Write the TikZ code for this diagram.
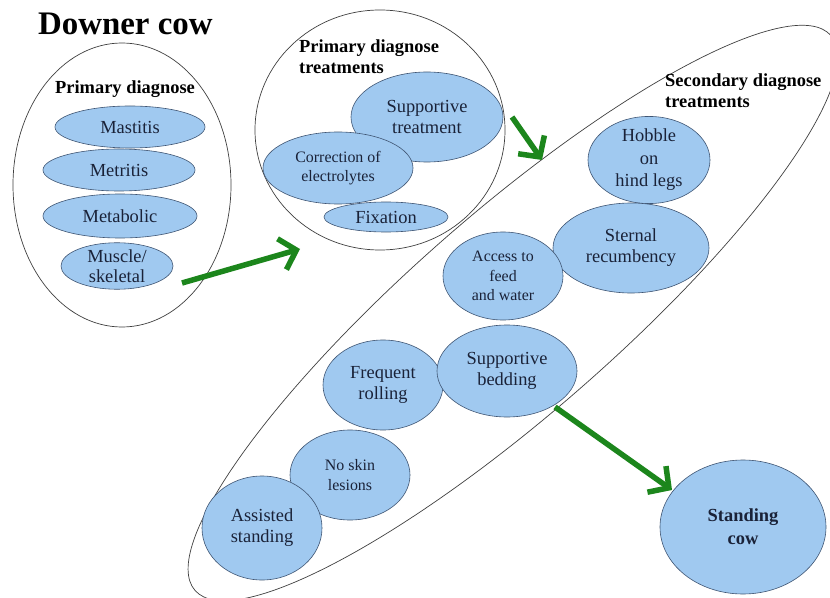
\documentclass[tikz,border=0pt]{standalone}
\usepackage{fontspec}
\setmainfont{Liberation Serif}
\usetikzlibrary{shapes.geometric,arrows.meta}
\definecolor{cfill}{HTML}{A0C9F0}
\definecolor{cedge}{HTML}{3F5573}
\definecolor{ctext}{HTML}{1A2238}
\definecolor{cgreen}{HTML}{1C861C}
\begin{document}
\begin{tikzpicture}[x=1bp,y=-1bp,
  blob/.style={ellipse, draw=cedge, line width=0.6bp, fill=cfill, inner sep=0pt, text=ctext, align=center, font=\fontsize{18.5}{21}\selectfont},
  smallblob/.style={blob, font=\fontsize{16}{19.5}\selectfont},
  grpshape/.style={ellipse, draw=black!75, line width=0.7bp, inner sep=0pt},
  grouplabel/.style={font=\bfseries\fontsize{18.5}{21}\selectfont, align=left, inner sep=0pt},
  flowarrow/.style={draw=cgreen, line width=5.5bp, -{Straight Barb[length=15bp,width=32bp]}}]
\useasboundingbox (0,0) rectangle (830,598);
\fill[white] (0,0) rectangle (830,598);

% title
\node[anchor=base west, inner sep=0pt, font=\bfseries\fontsize{33}{36}\selectfont] (title) at (38,35) {Downer cow};

% group outlines
\node[grpshape, minimum width=218bp, minimum height=284bp] (pd) at (122,185) {};
\node[grpshape, minimum width=250bp, minimum height=240bp] (pdt) at (380,130) {};
\node[grpshape, minimum width=844bp, minimum height=202bp, rotate=41.1] (sdt) at (513,313) {};

% group labels
\node[grouplabel, anchor=base] (pdl) at (125,94) {Primary diagnose};
\node[grouplabel, anchor=north west] (pdtl) at (299,40) {Primary diagnose\\treatments};
\node[grouplabel, anchor=north west] (sdtl) at (665,74) {Secondary diagnose\\treatments};

% primary diagnose
\node[blob, minimum width=150bp, minimum height=42bp] (mast) at (130,127) {Mastitis};
\node[blob, minimum width=152bp, minimum height=42bp] (metr) at (119,170) {Metritis};
\node[blob, minimum width=154bp, minimum height=44bp] (meta) at (120,216) {Metabolic};
\node[blob, minimum width=112bp, minimum height=46bp, font=\fontsize{18.5}{20}\selectfont] (musc) at (117,266) {Muscle/\\skeletal};

% primary diagnose treatments
\node[blob, minimum width=152bp, minimum height=90bp] (supt) at (427,117) {Supportive\\treatment};
\node[smallblob, minimum width=150bp, minimum height=72bp] (corr) at (338,168) {Correction of\\electrolytes};
\node[blob, minimum width=124bp, minimum height=30bp] (fix) at (386,217) {Fixation};

% secondary diagnose treatments
\node[blob, minimum width=122bp, minimum height=86bp, font=\fontsize{18.5}{22.5}\selectfont] (hob) at (649,160) {Hobble\\on\\hind legs};
\node[blob, minimum width=156bp, minimum height=90bp] (stern) at (631,248) {Sternal\\recumbency};
\node[smallblob, minimum width=120bp, minimum height=88bp] (acc) at (503,276) {Access to\\feed\\and water};
\node[blob, minimum width=120bp, minimum height=90bp] (roll) at (383,385) {Frequent\\rolling};
\node[blob, minimum width=140bp, minimum height=92bp] (bed) at (507,371) {Supportive\\bedding};
\node[smallblob, minimum width=120bp, minimum height=90bp] (skin) at (350,475) {No skin\\lesions};
\node[blob, minimum width=120bp, minimum height=104bp] (assist) at (262,528) {Assisted\\standing};

% result
\node[blob, minimum width=166bp, minimum height=134bp, font=\bfseries\fontsize{18.5}{23}\selectfont] (stand) at (743,527) {Standing\\cow};

% arrows
\coordinate (a1s) at (182,283);
\coordinate (a1e) at (300,249);
\coordinate (a2s) at (512,117);
\coordinate (a2e) at (542,160);
\coordinate (a3s) at (555,407);
\coordinate (a3e) at (672,490);
\draw[flowarrow] (a1s) -- (a1e);
\draw[flowarrow] (a2s) -- (a2e);
\draw[flowarrow] (a3s) -- (a3e);
\end{tikzpicture}
\end{document}
